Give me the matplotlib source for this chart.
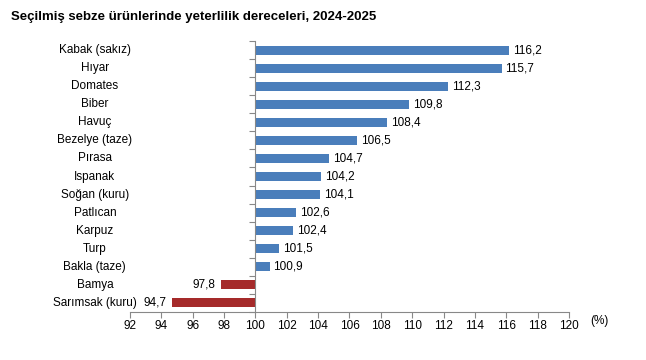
import matplotlib.pyplot as plt
from matplotlib.transforms import blended_transform_factory

# ================================
# DATA
# ================================
products = ["Kabak (sakız)", "Hıyar", "Domates", "Biber", "Havuç", "Bezelye (taze)",
            "Pırasa", "Ispanak", "Soğan (kuru)", "Patlıcan", "Karpuz", "Turp",
            "Bakla (taze)", "Bamya", "Sarımsak (kuru)"]
values = [116.2, 115.7, 112.3, 109.8, 108.4, 106.5, 104.7, 104.2, 104.1,
          102.6, 102.4, 101.5, 100.9, 97.8, 94.7]
x_ticks = list(range(92, 121, 2))
base = 100

plt.rcParams['font.family'] = ['Liberation Sans', 'DejaVu Sans']
fs = 8.5

fig = plt.figure(figsize=(6.46, 3.6), dpi=100)
ax = fig.add_axes([0.2012, 0.1333, 0.6796, 0.7527])

n = len(products)
ypos = list(range(n))
colors = ["#4A7EBB" if v >= base else "#A52A2A" for v in values]
widths = [v - base for v in values]
ax.barh(ypos, widths, left=base, height=0.5, color=colors)

ax.set_xlim(92, 120)
ax.set_ylim(n - 0.5, -0.5)
ax.set_xticks(x_ticks)
ax.set_xticklabels([str(t) for t in x_ticks], fontsize=fs)

# vertical axis at 100
for s in ["top", "right"]:
    ax.spines[s].set_visible(False)
ax.spines["left"].set_position(("data", base))
ax.spines["left"].set_color("#888888")
ax.spines["bottom"].set_color("#888888")
ax.set_yticks([i - 0.5 for i in range(n + 1)])
ax.set_yticklabels([])
ax.tick_params(axis="y", length=4, color="#888888")
ax.tick_params(axis="x", length=4, color="#888888", pad=2)

# category labels
trans = blended_transform_factory(ax.transAxes, ax.transData)
for i, name in enumerate(products):
    ax.text(-0.08, i, name, transform=trans, ha="center", va="center", fontsize=fs)

# value labels
for i, v in enumerate(values):
    label = f"{v:.1f}".replace(".", ",")
    if v >= base:
        ax.text(v + 0.25, i, label, ha="left", va="center", fontsize=fs)
    else:
        ax.text(v - 0.35, i, label, ha="right", va="center", fontsize=fs)

ax.text(1.07, -0.035, "(%)", transform=ax.transAxes, ha="center", va="center", fontsize=fs)

fig.text(0.017, 0.952, "Seçilmiş sebze ürünlerinde yeterlilik dereceleri, 2024-2025",
         fontsize=9.5, fontweight="bold", ha="left", va="center")

fig.savefig("out.png", dpi=100)
